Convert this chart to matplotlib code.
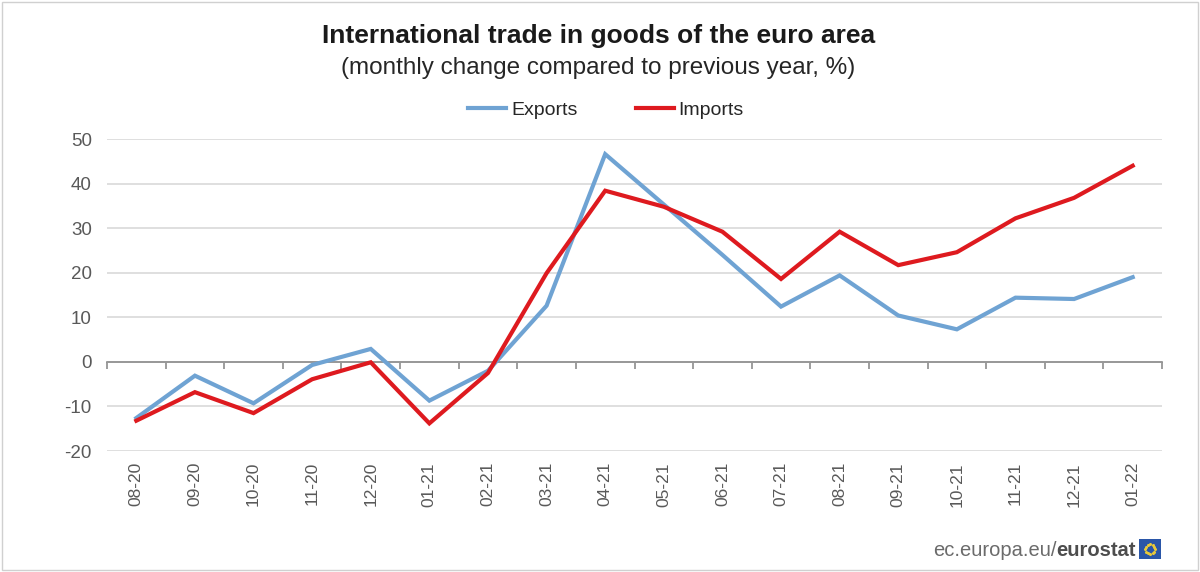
import matplotlib
matplotlib.use("Agg")
import matplotlib.pyplot as plt
from matplotlib.patches import Rectangle
import numpy as np

plt.rcParams['font.family'] = ['Liberation Sans', 'DejaVu Sans']

months = ["08-20", "09-20", "10-20", "11-20", "12-20", "01-21", "02-21", "03-21", "04-21",
          "05-21", "06-21", "07-21", "08-21", "09-21", "10-21", "11-21", "12-21", "01-22"]
exports = [-12.6, -3.1, -9.3, -0.7, 2.9, -8.7, -2.0, 12.6, 46.6,
           35.3, 24.0, 12.4, 19.4, 10.4, 7.3, 14.4, 14.1, 19.0]
imports = [-13.2, -6.8, -11.5, -3.9, -0.1, -13.8, -2.5, 19.9, 38.4,
           34.8, 29.2, 18.6, 29.2, 21.7, 24.6, 32.2, 36.8, 44.0]
yticks = [-20, -10, 0, 10, 20, 30, 40, 50]

BLUE = "#6FA3D3"
RED = "#DE1A1F"
GRAY = "#595959"

fig = plt.figure(figsize=(12, 5.72), dpi=100)
ax = fig.add_axes([107 / 1200, 1 - 451 / 572, 1055 / 1200, 312 / 572])

x = np.arange(len(months))
ax.plot(x, exports, color=BLUE, lw=3, solid_joinstyle='miter', label="Exports", zorder=3)
ax.plot(x, imports, color=RED, lw=3, solid_joinstyle='miter', label="Imports", zorder=4)

ax.set_xlim(-0.5, len(months) - 0.5)
ax.set_ylim(-20, 50)
ax.set_yticks(yticks)
ax.set_yticklabels([str(v) for v in yticks])
ax.yaxis.grid(True, color="#D9D9D9", lw=1.2)
ax.set_axisbelow(True)

for s in ["left", "right", "bottom"]:
    ax.spines[s].set_visible(False)
ax.spines["top"].set_position(("data", 0))
ax.spines["top"].set_color("#8C8C8C")
ax.spines["top"].set_linewidth(1.2)
ax.spines["top"].set_zorder(2)

ax.set_xticks(x)
ax.set_xticklabels(months, rotation=90, va="top", ha="center")
ax.set_xticks(np.arange(len(months) + 1) - 0.5, minor=True)
ax.tick_params(axis="x", which="major", bottom=True, top=False, length=0, pad=8,
               labelsize=12.5, labelcolor=GRAY)
ax.tick_params(axis="x", which="minor", bottom=False, top=True, direction="in",
               length=5, width=1.2, color="#8C8C8C")
ax.tick_params(axis="y", length=0, pad=11, labelsize=13.5, labelcolor=GRAY)

fig.text(0.4985, 1 - 36 / 572, "International trade in goods of the euro area",
         ha="center", va="center", fontsize=19, fontweight="bold", color="#1A1A1A")
fig.text(0.4985, 1 - 68 / 572, "(monthly change compared to previous year, %)",
         ha="center", va="center", fontsize=17.5, color="#262626")

leg = fig.legend(loc="center", bbox_to_anchor=(0.505, 1 - 110 / 572), ncol=2, frameon=False,
                 fontsize=14, handlelength=1.95, handletextpad=0.25, columnspacing=3.0)
for t in leg.get_texts():
    t.set_color("#262626")

# source / logo
fig.canvas.draw()
r = fig.canvas.get_renderer()
bold = fig.text(1136 / 1200, 1 - 550 / 572, "eurostat", ha="right", va="center",
                fontsize=14.5, fontweight="bold", color="#4D4D4D")
bb = bold.get_window_extent(r)
fig.text(bb.x0 / 1200, 1 - 550 / 572, "ec.europa.eu/", ha="right", va="center",
         fontsize=14.5, color="#6B6B6B")
fig.patches.append(Rectangle((1139 / 1200, 1 - 559 / 572), 22 / 1200, 20 / 572,
                             transform=fig.transFigure, facecolor="#2A56A8", edgecolor="none"))
ang = np.linspace(0, 2 * np.pi, 12, endpoint=False)
fig.add_artist(plt.Line2D((1150 + 5 * np.cos(ang)) / 1200, (1 - 549 / 572) + 5 * np.sin(ang) / 572,
                          transform=fig.transFigure, ls="none", marker="o", ms=1.2,
                          color="#E8C93A"))

fig.patches.append(Rectangle((2 / 1200, 2 / 572), 1196 / 1200, 568 / 572, transform=fig.transFigure,
                             facecolor="none", edgecolor="#D0D0D0", lw=1))

fig.savefig("out.png", dpi=100)
